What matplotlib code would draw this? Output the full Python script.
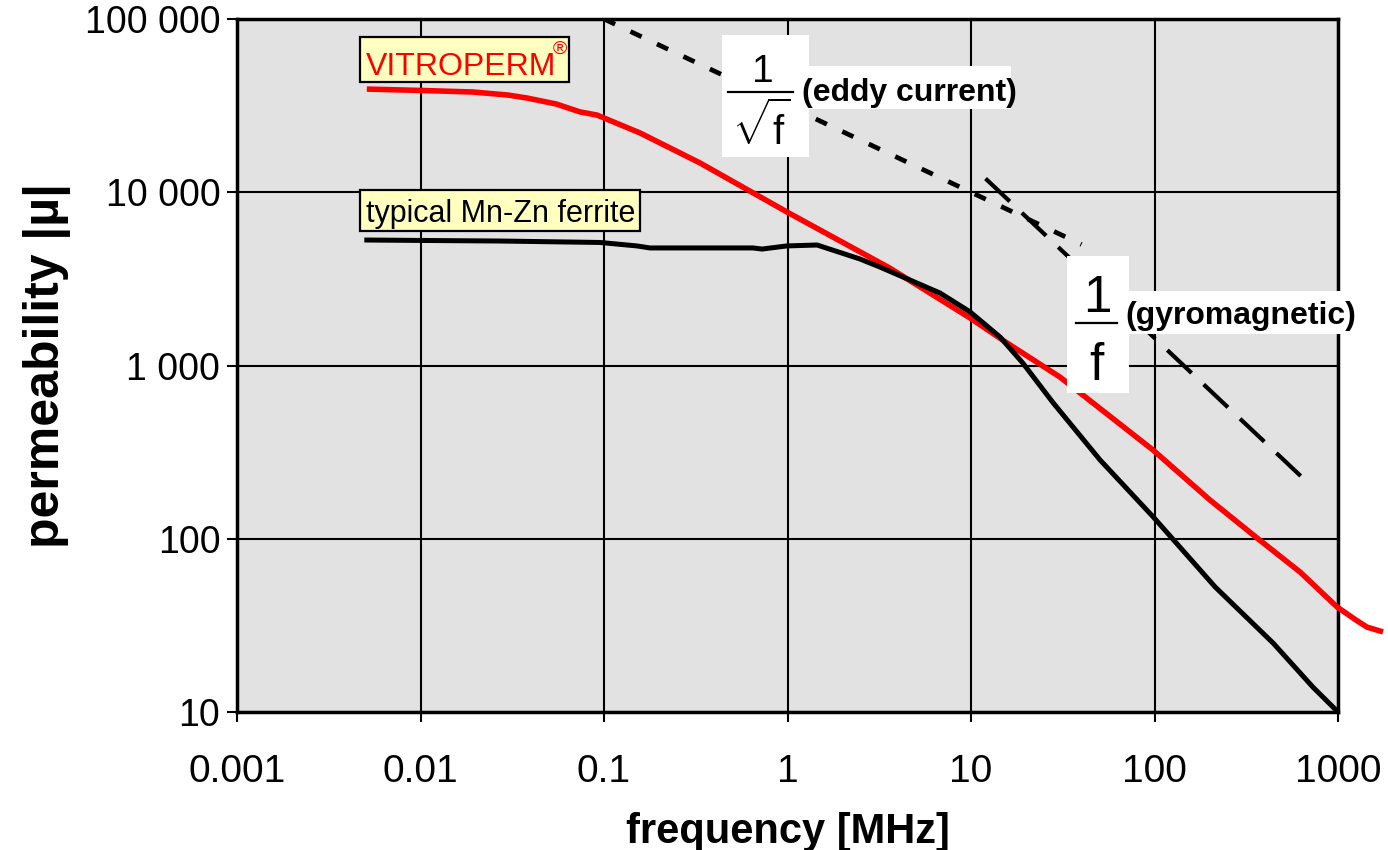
import matplotlib.pyplot as plt
from matplotlib.lines import Line2D
from matplotlib.patches import Rectangle

plt.rcParams['font.family'] = ['Liberation Sans', 'DejaVu Sans']
plt.rcParams['mathtext.fontset'] = 'custom'
plt.rcParams['mathtext.rm'] = 'Liberation Sans'

# VITROPERM permeability vs frequency [MHz]
vitro_f = [0.0051, 0.01, 0.0193, 0.03, 0.038, 0.055, 0.0739, 0.0916, 0.157,
           0.334, 0.994, 3.61, 9.88, 15.7, 30.5, 98.2, 201, 362, 621, 988,
           1250, 1439, 1758]
vitro_mu = [39400, 38700, 37900, 36400, 35000, 32300, 29100, 27900, 22000,
            14750, 7690, 3650, 1880, 1350, 858, 325, 167, 101, 64.3, 40.4,
            34, 30.9, 29]

# typical Mn-Zn ferrite
ferrite_f = [0.0051, 0.01, 0.0271, 0.0951, 0.151, 0.178, 0.649, 0.726, 0.993,
             1.45, 2.48, 3.19, 6.78, 9.88, 14.4, 19.2, 28.0, 50.5, 98.2, 214,
             443, 731, 1000]
ferrite_mu = [5300, 5270, 5230, 5130, 4900, 4770, 4770, 4700, 4900,
              4960, 4120, 3700, 2620, 2040, 1460, 1030, 610, 285, 134, 52.7,
              25, 13.9, 10]

# guide lines
eddy_f = [0.1, 40]
eddy_mu = [100000, 5000]
gyro_f = [12, 700]
gyro_mu = [12000, 206]

x_ticks = [0.001, 0.01, 0.1, 1, 10, 100, 1000]
x_labels = ['0.001', '0.01', '0.1', '1', '10', '100', '1000']
y_ticks = [10, 100, 1000, 10000, 100000]
y_labels = ['10', '100', '1 000', '10 000', '100 000']

W, H = 1388, 850
fig = plt.figure(figsize=(W / 100, H / 100), dpi=100)
ax = fig.add_axes([237 / W, 1 - 712 / H, 1101 / W, 693 / H])
ax.set_facecolor('#e2e2e2')

ax.set_xscale('log')
ax.set_yscale('log')
ax.set_xlim(0.001, 1000)
ax.set_ylim(10, 100000)
ax.set_xticks(x_ticks)
ax.set_xticklabels(x_labels)
ax.set_yticks(y_ticks)
ax.set_yticklabels(y_labels)
ax.minorticks_off()
ax.grid(True, color='black', lw=1.5)
ax.set_axisbelow(True)
for s in ax.spines.values():
    s.set_linewidth(2.5)
ax.tick_params(axis='both', direction='out', length=7, width=1.5)
ax.tick_params(axis='x', labelsize=28, pad=23)
ax.tick_params(axis='y', labelsize=27, pad=5)

ax.plot(vitro_f, vitro_mu, color='#ff0000', lw=4, clip_on=False, zorder=3,
        solid_capstyle='butt')
ax.plot(ferrite_f, ferrite_mu, color='black', lw=3.6, zorder=4)
ax.plot(eddy_f, eddy_mu, color='black', lw=3.4, dashes=(2.6, 3.6),
        dash_capstyle='butt', zorder=4)
ax.plot(gyro_f, gyro_mu, color='black', lw=3, dashes=(8, 4),
        dash_capstyle='butt', zorder=4)

ax.set_xlabel('frequency [MHz]', fontsize=30, fontweight='bold', labelpad=16)
ax.set_ylabel('permeability |µ|', fontsize=36, fontweight='bold', labelpad=10)


def fp(px, py):
    return px / W, 1 - py / H


def box(x0, y0, x1, y1, fc, ec='none'):
    fig.patches.append(Rectangle(fp(x0, y1), (x1 - x0) / W, (y1 - y0) / H,
                                 transform=fig.transFigure, fc=fc, ec=ec,
                                 lw=1.6, zorder=6))


def bar(x0, x1, y):
    fig.lines.append(Line2D([x0 / W, x1 / W], [1 - y / H] * 2,
                            transform=fig.transFigure, color='black',
                            lw=1.6, zorder=7))


# labels on the curves
box(360, 37, 569, 82, '#ffffc0', 'black')
fig.text(*fp(366, 75), 'VITROPERM', color='#ff0000', fontsize=23,
         va='baseline', zorder=7)
fig.text(*fp(560, 49), '®', color='#ff0000', fontsize=14,
         ha='center', va='center', zorder=7)

box(360, 190, 640, 231, '#ffffc0', 'black')
fig.text(*fp(366, 222), 'typical Mn-Zn ferrite', color='black', fontsize=22,
         va='baseline', zorder=7)

# 1/sqrt(f) label
box(722, 35, 809, 157, 'white')
box(800, 66, 1011, 109, 'white')
fig.text(*fp(763, 82), '1', fontsize=28, ha='center', va='baseline', zorder=7)
bar(728, 793, 92)
fig.text(*fp(761, 145), r'$\sqrt{\mathrm{f}}$', fontsize=29, ha='center',
         va='baseline', zorder=7)
fig.text(*fp(802, 101), '(eddy current)', fontsize=23, fontweight='bold',
         va='baseline', zorder=7)

# 1/f label
box(1067, 256, 1129, 393, 'white')
box(1125, 291, 1355, 334, 'white')
fig.text(*fp(1097, 312), '1', fontsize=37, ha='center', va='baseline',
         zorder=7)
bar(1076, 1117, 323)
fig.text(*fp(1096, 380), 'f', fontsize=37, ha='center', va='baseline',
         zorder=7)
fig.text(*fp(1125, 324), '(gyromagnetic)', fontsize=23, fontweight='bold',
         va='baseline', zorder=7)

fig.savefig('out.png', dpi=100)
